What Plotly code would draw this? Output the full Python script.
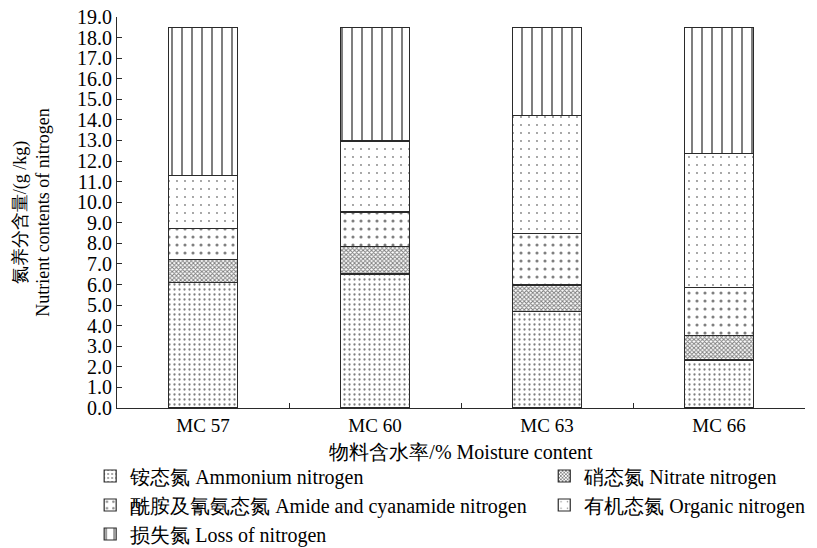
import plotly.graph_objects as go

categories = ["MC 57", "MC 60", "MC 63", "MC 66"]
ammonium = [6.10, 6.51, 4.68, 2.33]
nitrate = [1.12, 1.35, 1.30, 1.18]
amide = [1.51, 1.66, 2.51, 2.34]
organic = [2.56, 3.45, 5.71, 6.53]
loss = [7.21, 5.53, 4.30, 6.12]

series = [
    ("铵态氮 Ammonium nitrogen", ammonium, dict(shape=".", size=5, solidity=0.16), "legend"),
    ("硝态氮 Nitrate nitrogen", nitrate, dict(shape="x", size=3, solidity=0.55), "legend2"),
    ("酰胺及氰氨态氮 Amide and cyanamide nitrogen", amide, dict(shape=".", size=8, solidity=0.12), "legend"),
    ("有机态氮 Organic nitrogen", organic, dict(shape=".", size=8, solidity=0.04), "legend2"),
    ("损失氮 Loss of nitrogen", loss, dict(shape="|", size=10, solidity=0.2), "legend"),
]

FONT = "Times New Roman, Liberation Serif, Times, serif"

fig = go.Figure()
for i, (name, vals, pat, lg) in enumerate(series):
    fig.add_trace(go.Bar(
        x=categories, y=vals, name=name, width=0.4, legend=lg, legendgroup=f"g{i}",
        marker=dict(color="white",
                    line=dict(color="#2a2a2a", width=1.2),
                    pattern=dict(fgcolor="black", bgcolor="white", fillmode="overlay", **pat)),
    ))

leg_common = dict(orientation="v", yanchor="top", xanchor="left",
                  font=dict(family=FONT, size=20), tracegroupgap=0,
                  itemwidth=30, bgcolor="rgba(0,0,0,0)")

fig.update_layout(
    barmode="stack",
    width=817, height=548,
    margin=dict(l=109, r=20, t=9, b=148, autoexpand=False),
    paper_bgcolor="white", plot_bgcolor="white",
    font=dict(family=FONT, size=18, color="black"),
    showlegend=True,
    legend=dict(x=-0.039, y=-0.124, **leg_common),
    legend2=dict(x=0.621, y=-0.124, **leg_common),
)
fig.update_xaxes(
    type="category", range=[-0.5, 3.5],
    showline=True, linecolor="#2a2a2a", linewidth=1.2,
    ticks="inside", tickson="boundaries", ticklen=5, tickcolor="#2a2a2a",
    tickfont=dict(family=FONT, size=19),
    title=dict(text="物料含水率/% Moisture content", font=dict(family=FONT, size=20), standoff=10),
    showgrid=False, zeroline=False,
)
fig.update_yaxes(
    range=[0, 19.0001], dtick=1, tick0=0, tickformat=".1f",
    showline=True, linecolor="#2a2a2a", linewidth=1.2,
    ticks="inside", ticklen=5, tickcolor="#2a2a2a",
    tickfont=dict(family=FONT, size=20), ticklabeloverflow="allow",
    title=dict(text="氮养分含量/(g /kg)<br>Nutrient contents of nitrogen",
               font=dict(family=FONT, size=18), standoff=22),
    showgrid=False, zeroline=False,
)

fig.write_html("out.html")
